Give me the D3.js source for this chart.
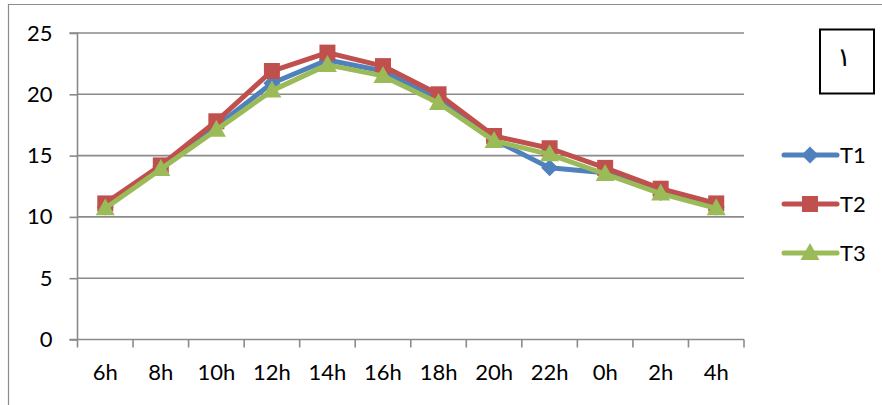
<!DOCTYPE html>
<html>
<head>
<meta charset="utf-8">
<script src="https://cdn.jsdelivr.net/npm/d3@7"></script>
<style>
  html, body { margin: 0; padding: 0; background: #fff; }
  svg { display: block; }
  text { font-family: Lato, "Open Sans", sans-serif; fill: #000; }
</style>
</head>
<body>
<svg id="chart" width="882" height="405"></svg>
<script>
const categories = ["6h","8h","10h","12h","14h","16h","18h","20h","22h","0h","2h","4h"];
const T1 = [10.8, 14.1, 17.4, 20.9, 22.8, 21.9, 19.6, 16.3, 14.0, 13.6, 12.0, 10.8];
const T2 = [11.1, 14.2, 17.8, 21.9, 23.4, 22.3, 20.0, 16.6, 15.6, 14.0, 12.3, 11.1];
const T3 = [10.7, 13.9, 17.1, 20.3, 22.4, 21.5, 19.3, 16.2, 15.1, 13.5, 11.9, 10.7];
const yTicks = [0, 5, 10, 15, 20, 25];
const seriesNames = ["T1", "T2", "T3"];
const boxLabel = "١";

const series = [
  {name: seriesNames[0], values: T1, color: "#4F81BD", marker: "diamond"},
  {name: seriesNames[1], values: T2, color: "#C0504D", marker: "square"},
  {name: seriesNames[2], values: T3, color: "#9BBB59", marker: "triangle"}
];

const svg = d3.select("#chart");
const mLeft = 77.5, mRight = 744, mTop = 33, mBottom = 339.5;

// outer chart border
svg.append("path").attr("d", "M8.5,410 V4.5 H890")
  .attr("fill", "none").attr("stroke", "#8c8c8c").attr("stroke-width", 1.2);

const x = d3.scaleBand().domain(categories).range([mLeft, mRight]);
const y = d3.scaleLinear().domain([0, 25]).range([mBottom, mTop]);

// gridlines
svg.append("g").selectAll("line").data(yTicks.filter(d => d > 0)).join("line")
  .attr("x1", mLeft).attr("x2", mRight)
  .attr("y1", d => y(d)).attr("y2", d => y(d))
  .attr("stroke", "#8a8a8a").attr("stroke-width", 1.6);

// y axis
const yAxis = d3.axisLeft(y).tickValues(yTicks).tickSize(8).tickPadding(17);
const gy = svg.append("g").attr("transform", `translate(${mLeft},0)`).call(yAxis);
gy.select(".domain").attr("stroke", "#8a8a8a").attr("stroke-width", 1.6).attr("d", `M-8,${mBottom}H0V${mTop}H-8`);
gy.selectAll(".tick line").attr("stroke", "#8a8a8a").attr("stroke-width", 1.6);
gy.selectAll(".tick text").style("font-family", "Lato").style("font-size", "22px").attr("fill", "#000");

// x axis
const xAxis = d3.axisBottom(x).tickSize(0).tickPadding(25);
const gx = svg.append("g").attr("transform", `translate(0,${mBottom})`).call(xAxis);
gx.select(".domain").attr("stroke", "#8a8a8a").attr("stroke-width", 1.6).attr("d", `M${mLeft},0H${mRight}`);
gx.selectAll(".tick text").style("font-family", "Lato").style("font-size", "22px").attr("fill", "#000");
// band-boundary tick marks
gx.append("g").selectAll("line").data(d3.range(categories.length + 1)).join("line")
  .attr("x1", i => mLeft + i * x.step()).attr("x2", i => mLeft + i * x.step())
  .attr("y1", 0).attr("y2", 8)
  .attr("stroke", "#8a8a8a").attr("stroke-width", 1.6);

function markerPath(type) {
  if (type === "diamond") return "M0,-8.5L8.5,0L0,8.5L-8.5,0Z";
  if (type === "square") return "M-8,-8H8V8H-8Z";
  return "M0,-10L9.5,7H-9.5Z";
}

const line = d3.line().x((d, i) => x(categories[i]) + x.bandwidth() / 2).y(d => y(d));

series.forEach(s => {
  const g = svg.append("g");
  g.append("path").datum(s.values).attr("d", line)
    .attr("fill", "none").attr("stroke", s.color).attr("stroke-width", 5)
    .attr("stroke-linejoin", "round");
  g.selectAll("path.m").data(s.values).join("path").attr("class", "m")
    .attr("d", markerPath(s.marker))
    .attr("transform", (d, i) => `translate(${x(categories[i]) + x.bandwidth() / 2},${y(d)})`)
    .attr("fill", s.color);
});

// legend
const lg = svg.append("g");
series.forEach((s, i) => {
  const cy = 155 + i * 49;
  lg.append("line").attr("x1", 784).attr("x2", 837).attr("y1", cy).attr("y2", cy)
    .attr("stroke", s.color).attr("stroke-width", 5).attr("stroke-linecap", "round");
  lg.append("path").attr("d", markerPath(s.marker)).attr("transform", `translate(810,${cy})`).attr("fill", s.color);
  lg.append("text").attr("x", 840).attr("y", cy + 8).style("font-size", "22px").text(s.name);
});

// box with label
svg.append("rect").attr("x", 820).attr("y", 29.5).attr("width", 54).attr("height", 64)
  .attr("fill", "none").attr("stroke", "#000").attr("stroke-width", 2);
svg.append("text").attr("x", 844).attr("y", 66).attr("text-anchor", "middle")
  .style("font-family", "'DejaVu Sans', 'Noto Sans', sans-serif").style("font-size", "26px").text(boxLabel);
</script>
</body>
</html>
